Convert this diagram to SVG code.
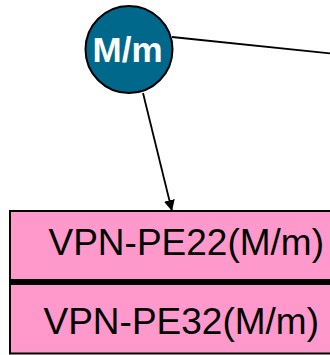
<svg xmlns="http://www.w3.org/2000/svg" width="330" height="355" viewBox="0 0 330 355">
  <defs>
    <style>
      .edge { stroke: #000; stroke-width: 1.8; fill: none; }
      .cell { fill: #ff99cc; stroke: #000; stroke-width: 2; }
      .lbl { font-family: "Liberation Sans", Arial, sans-serif; font-size: 37px; fill: #000; }
      .hub { fill: #00688b; stroke: #000; stroke-width: 2; }
      .hublbl { font-family: "Liberation Sans", Arial, sans-serif; font-size: 35px; font-weight: bold; fill: #fff; text-anchor: middle; }
    </style>
    <marker id="arrow" viewBox="0 0 10 10" refX="10" refY="5" markerWidth="11" markerHeight="11" markerUnits="userSpaceOnUse" orient="auto">
      <path d="M0,0 L10,5 L0,10 Z" fill="#000"/>
    </marker>
  </defs>

  <g id="edges">
    <line class="edge" x1="172" y1="37" x2="332" y2="53.5"/>
    <line class="edge" x1="143" y1="93" x2="172" y2="211" marker-end="url(#arrow)"/>
  </g>

  <g id="node-mm">
    <circle class="hub" cx="129" cy="49.5" r="43.5"/>
    <text class="hublbl" x="127.5" y="62">M/m</text>
  </g>

  <g id="node-vpn-pe">
    <rect class="cell" x="10" y="211" width="340" height="71"/>
    <rect class="cell" x="10" y="282" width="340" height="71.5"/>
    <line x1="10" y1="282" x2="350" y2="282" stroke="#000" stroke-width="6"/>
    <text class="lbl" x="48.5" y="255">VPN-PE22(M/m)</text>
    <text class="lbl" x="43.5" y="334">VPN-PE32(M/m)</text>
  </g>
</svg>
